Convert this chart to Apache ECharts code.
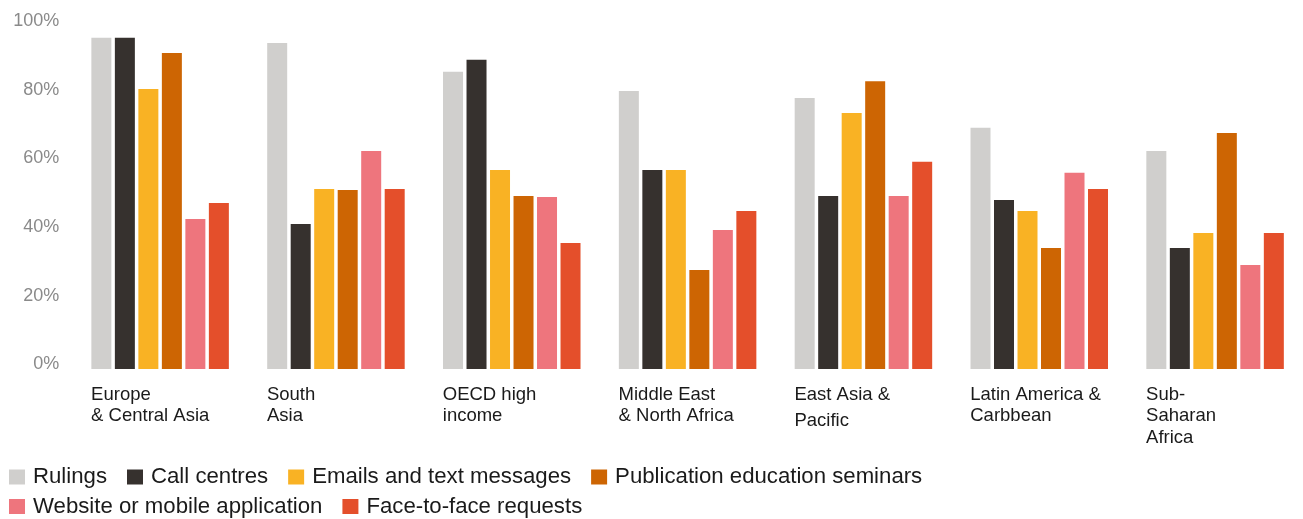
<!DOCTYPE html>
<html>
<head>
<meta charset="utf-8">
<script src="https://cdn.jsdelivr.net/npm/echarts@6/dist/echarts.min.js"></script>
<style>
html,body{margin:0;padding:0;background:#fff;}
#chart{width:1303px;height:519px;}
</style>
</head>
<body>
<div id="chart"></div>
<script>
const categories = [
  "Europe\n& Central Asia",
  "South\nAsia",
  "OECD high\nincome",
  "Middle East\n& North Africa",
  "East Asia &\nPacific",
  "Latin America &\nCarbbean",
  "Sub-\nSaharan\nAfrica"
];
const seriesNames = [
  "Rulings",
  "Call centres",
  "Emails and text messages",
  "Publication education seminars",
  "Website or mobile application",
  "Face-to-face requests"
];
const seriesColors = ["#D0CFCD", "#36312E", "#F9B224", "#CD6503", "#EE757D", "#E44F2B"];
const rulings     = [96.4, 94.9, 86.5, 80.9, 78.9, 70.2, 63.5];
const callCentres = [96.4, 42.2, 90.0, 57.9, 50.4, 49.2, 35.2];
const emails      = [81.5, 52.4, 57.9, 57.9, 74.5, 46.0, 39.6];
const publication = [92.0, 52.1, 50.4, 28.8, 83.8, 35.2, 68.7];
const website     = [43.7, 63.5, 50.1, 40.5, 50.4, 57.1, 30.3];
const faceToFace  = [48.3, 52.4, 36.7, 46.0, 60.3, 52.4, 39.6];
const yTicks = [0, 20, 40, 60, 80, 100];

const seriesData = [rulings, callCentres, emails, publication, website, faceToFace];
const FONT = "'Liberation Sans', Arial, sans-serif";

const chart = echarts.init(document.getElementById('chart'), null, {renderer: 'canvas'});

const series = seriesNames.map((name, i) => ({
  name: name,
  type: 'bar',
  data: seriesData[i],
  barWidth: 20,
  barGap: '17.5%',
  itemStyle: {color: seriesColors[i]},
  emphasis: {disabled: true},
  animation: false
}));

const legendCommon = {
  left: 9,
  orient: 'horizontal',
  icon: 'rect',
  itemWidth: 16,
  itemHeight: 15,
  itemGap: 20,
  padding: 0,
  selectedMode: false,
  textStyle: {fontFamily: FONT, fontSize: 22.2, color: '#1a1a1a', padding: [0, 0, 0, 3]},
};

const option = {
  backgroundColor: '#ffffff',
  animation: false,
  textStyle: {fontFamily: FONT},
  legend: [
    Object.assign({}, legendCommon, {top: 466, data: seriesNames.slice(0, 4)}),
    Object.assign({}, legendCommon, {top: 495.5, data: seriesNames.slice(4)})
  ],
  grid: {left: 72.2, top: 25.5, width: 1244, height: 343.5, containLabel: false},
  xAxis: {
    type: 'category',
    data: categories,
    axisLine: {show: false},
    axisTick: {show: false},
    axisLabel: {
      interval: 0,
      margin: 15,
      align: 'center',
      formatter: function (value) {
        const lines = value.split('\n');
        return lines.map((l, idx) => {
          const style = (value.indexOf('Pacific') >= 0 && idx === 1) ? 'p' : 'a';
          return '{' + style + '|' + l + '}';
        }).join('\n');
      },
      rich: {
        a: {width: 138, align: 'left', fontSize: 18.5, lineHeight: 21.5, color: '#1a1a1a', fontFamily: FONT},
        p: {width: 138, align: 'left', fontSize: 18.5, lineHeight: 31, color: '#1a1a1a', fontFamily: FONT}
      }
    }
  },
  yAxis: {
    type: 'value',
    min: 0,
    max: 100,
    interval: 20,
    axisLine: {show: false},
    axisTick: {show: false},
    splitLine: {show: false},
    axisLabel: {
      margin: 13,
      fontSize: 18,
      color: '#8a8a8a',
      fontFamily: FONT,
      verticalAlign: 'bottom',
      lineHeight: 9,
      formatter: function (v) { return yTicks.indexOf(v) >= 0 ? v + '%' : ''; }
    }
  },
  series: series
};

chart.setOption(option);
</script>
</body>
</html>
